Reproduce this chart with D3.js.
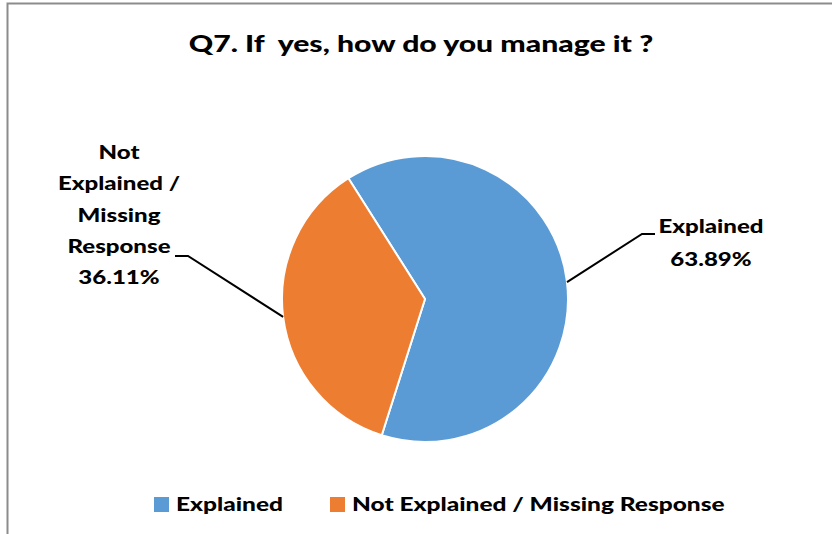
<!DOCTYPE html>
<html>
<head>
<meta charset="utf-8">
<script src="https://cdn.jsdelivr.net/npm/d3@7"></script>
<style>
  body { margin: 0; background: #fff; }
  svg { display: block; font-family: Lato, "Open Sans", sans-serif; font-weight: 900; }
</style>
</head>
<body>
<div id="chart"></div>
<script>
const categories = ['Explained', 'Not Explained / Missing Response'];
const values = [63.89, 36.11];
const colors = ['#5b9bd5', '#ed7d31'];
const labelLines = [['Explained', '63.89%'], ['Not', 'Explained /', 'Missing', 'Response', '36.11%']];

const width = 832, height = 534;
const stretch = 1.3; // the original text is set wide
const svg = d3.select('#chart').append('svg')
  .attr('width', width)
  .attr('height', height);

// chart border (runs off the right and bottom)
svg.append('rect')
  .attr('x', 7.5).attr('y', 3.5)
  .attr('width', 900).attr('height', 600)
  .attr('fill', 'none')
  .attr('stroke', '#8c8c8c')
  .attr('stroke-width', 2);

svg.append('text')
  .attr('transform', `translate(421,52) scale(1.34,1)`)
  .attr('text-anchor', 'middle')
  .attr('font-size', 22.5)
  .attr('fill', '#000')
  .style('white-space', 'pre')
  .text('Q7. If  yes, how do you manage it ?');

const cx = 425, cy = 299, r = 143;
const start = -32.4 * Math.PI / 180;

const pie = d3.pie().sort(null)
  .startAngle(start).endAngle(start + 2 * Math.PI);
const arcs = pie(values);
const arc = d3.arc().innerRadius(0).outerRadius(r);

const g = svg.append('g').attr('transform', `translate(${cx},${cy})`);
g.selectAll('path')
  .data(arcs)
  .enter()
  .append('path')
  .attr('d', arc)
  .attr('fill', (d, i) => colors[i])
  .attr('stroke', '#fff')
  .attr('stroke-width', 2)
  .attr('stroke-linejoin', 'round');

// leader lines + labels
const leaders = [
  { rim: 83.2, elbow: [642, 234], end: [655, 234], tx: 711, ty: 233, lh: 33 },
  { rim: 262.8, elbow: [188, 256], end: [175, 256], tx: 119, ty: 159, lh: 31.3 }
];
arcs.forEach((d, i) => {
  const L = leaders[i];
  const ang = L.rim * Math.PI / 180;
  const px = cx + r * Math.sin(ang), py = cy - r * Math.cos(ang);
  svg.append('polyline')
    .attr('points', [[px, py], L.elbow, L.end].map(p => p.join(',')).join(' '))
    .attr('fill', 'none')
    .attr('stroke', '#000')
    .attr('stroke-width', 2);
  const t = svg.append('text')
    .attr('transform', `translate(${L.tx},${L.ty}) scale(${stretch},1)`)
    .attr('text-anchor', 'middle')
    .attr('font-size', 18.5)
    .attr('fill', '#000');
  labelLines[i].forEach((s, k) => {
    t.append('tspan').attr('x', 0).attr('y', k * L.lh).text(s);
  });
});

// legend
const legendX = [154, 330];
const lg = svg.append('g');
categories.forEach((c, i) => {
  lg.append('rect')
    .attr('x', legendX[i]).attr('y', 497)
    .attr('width', 15).attr('height', 15)
    .attr('fill', colors[i]);
  lg.append('text')
    .attr('transform', `translate(${legendX[i] + 22},511) scale(${stretch * 0.965},1)`)
    .attr('font-size', 19.5)
    .attr('fill', '#000')
    .text(c);
});
</script>
</body>
</html>
